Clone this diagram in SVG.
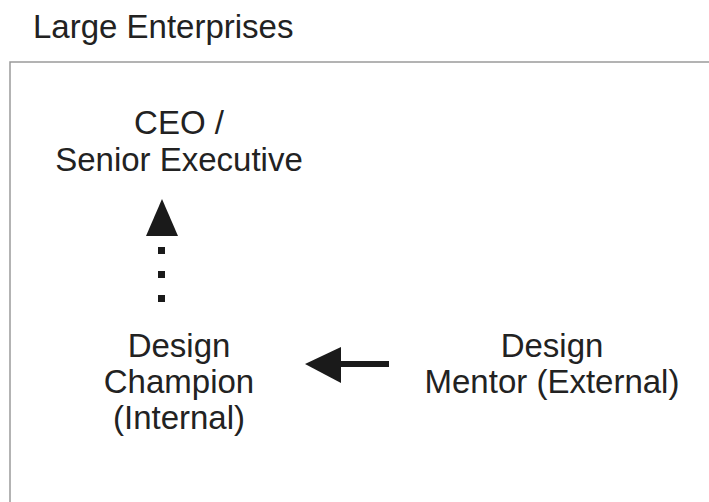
<svg xmlns="http://www.w3.org/2000/svg" width="709" height="502" viewBox="0 0 709 502">
<style>
text{font-family:"Liberation Sans",Arial,sans-serif;font-size:33px;fill:#222}
.c{text-anchor:middle}
.frame{fill:none;stroke:#9a9a9a;stroke-width:1.5}
</style>
<rect width="709" height="502" fill="#fff"/>
<g id="title"><text x="33" y="38">Large Enterprises</text></g>
<g id="frame"><path class="frame" d="M10,502 V62 H709"/></g>
<g id="ceo"><text class="c" x="179" y="134">CEO /</text><text class="c" x="179" y="171">Senior Executive</text></g>
<g id="champion"><text class="c" x="179" y="357">Design</text><text class="c" x="179" y="393">Champion</text><text class="c" x="179" y="429">(Internal)</text></g>
<g id="mentor"><text class="c" x="552" y="357">Design</text><text class="c" x="552" y="393">Mentor (External)</text></g>
<g id="connectors" fill="#1a1a1a">
<polygon points="162,199 146,236 178,236"/>
<rect x="158" y="247" width="7" height="7"/>
<rect x="158" y="271" width="7" height="7"/>
<rect x="158" y="295" width="7" height="7"/>
<polygon points="305,364 341,347 341,383"/>
<rect x="340" y="361" width="49" height="6"/>
</g>
</svg>
